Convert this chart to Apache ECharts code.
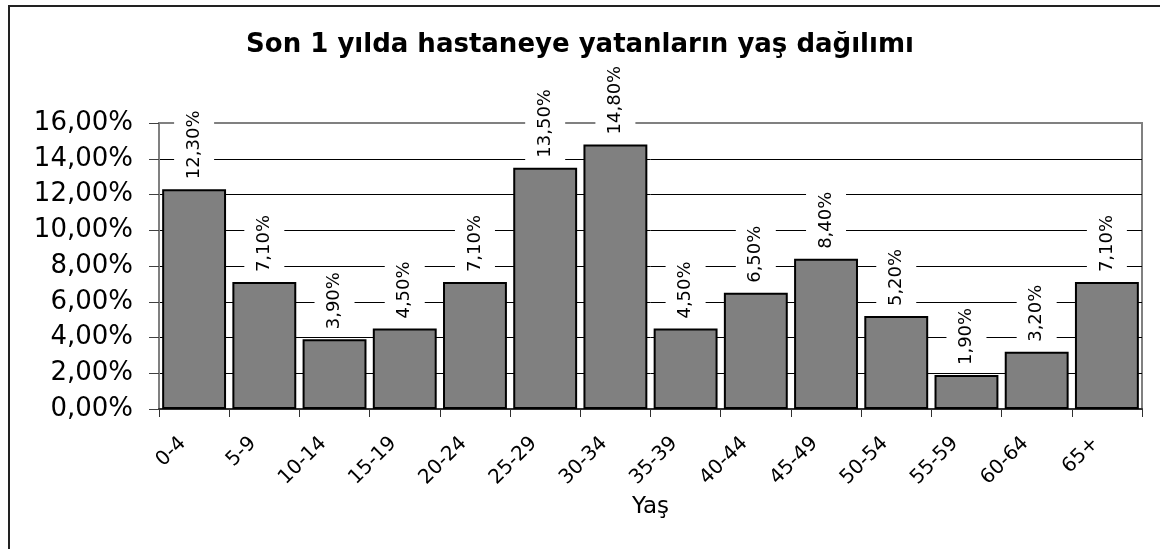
<!DOCTYPE html>
<html>
<head>
<meta charset="utf-8">
<script src="https://cdn.jsdelivr.net/npm/echarts@6/dist/echarts.min.js"></script>
<style>
  html, body { margin: 0; padding: 0; background: #fff; overflow: hidden; }
  #frame { position: absolute; left: 8px; top: 5px; width: 1200px; height: 600px;
           border-left: 2px solid #222; border-top: 2px solid #222; }
  #chart { position: absolute; left: 0; top: 0; width: 1160px; height: 549px; }
</style>
</head>
<body>
<div id="frame"></div>
<div id="chart"></div>
<script>
// Yaş grupları ve yüzdeler
const ageGroups = ['0-4', '5-9', '10-14', '15-19', '20-24', '25-29', '30-34',
                   '35-39', '40-44', '45-49', '50-54', '55-59', '60-64', '65+'];
const shares = [12.3, 7.1, 3.9, 4.5, 7.1, 13.5, 14.8, 4.5, 6.5, 8.4, 5.2, 1.9, 3.2, 7.1];
const yTicks = [0, 2, 4, 6, 8, 10, 12, 14, 16];

const font = '"DejaVu Sans", sans-serif';
const pct = v => v.toFixed(2).replace('.', ',') + '%';

const chart = echarts.init(document.getElementById('chart'));
chart.setOption({
  animation: false,
  backgroundColor: 'transparent',
  title: {
    text: 'Son 1 yılda hastaneye yatanların yaş dağılımı',
    left: 'center',
    top: 27,
    textStyle: { fontFamily: font, fontSize: 26, fontWeight: 'bold', color: '#000' }
  },
  grid: {
    left: 159, right: 18, top: 123, bottom: 140,
    show: true, borderColor: '#808080', borderWidth: 2, backgroundColor: 'transparent'
  },
  xAxis: {
    type: 'category',
    data: ageGroups,
    name: 'Yaş',
    nameLocation: 'middle',
    nameGap: 87,
    nameTextStyle: { fontFamily: font, fontSize: 23, color: '#000' },
    axisLine: { lineStyle: { color: '#303030', width: 2 } },
    axisTick: { show: true, length: 8, lineStyle: { color: '#303030', width: 1 } },
    axisLabel: {
      rotate: 45, margin: 20, padding: [0, 16, 0, 0],
      fontFamily: font, fontSize: 20, color: '#000', interval: 0
    }
  },
  yAxis: {
    type: 'value',
    min: yTicks[0],
    max: yTicks[yTicks.length - 1],
    interval: 2,
    axisLine: { show: true, lineStyle: { color: '#808080', width: 2 } },
    axisTick: { show: true, length: 10, lineStyle: { color: '#404040', width: 1 } },
    axisLabel: { margin: 26, fontFamily: font, fontSize: 26, color: '#000', formatter: v => pct(v) },
    splitLine: { lineStyle: { color: ['#808080', '#000', '#000', '#000', '#000', '#000', '#000', '#000', '#808080'], width: 1 } }
  },
  series: [{
    type: 'bar',
    data: shares,
    barCategoryGap: '9%',
    itemStyle: { color: '#808080', borderColor: '#000', borderWidth: 2 },
    label: {
      show: true,
      position: 'top',
      rotate: 90,
      align: 'left',
      verticalAlign: 'middle',
      distance: 6,
      fontFamily: font,
      fontSize: 18,
      color: '#000',
      backgroundColor: '#fff',
      padding: [11, 4],
      formatter: p => pct(p.value)
    }
  }]
});
</script>
</body>
</html>
